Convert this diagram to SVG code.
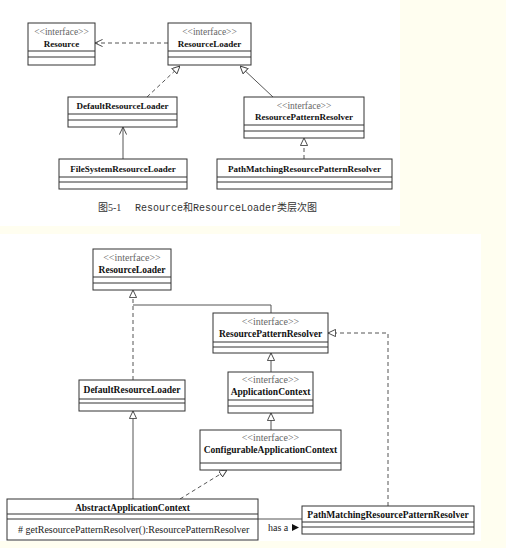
<svg xmlns="http://www.w3.org/2000/svg" width="506" height="548" viewBox="0 0 506 548">
<defs>
<style>
.box{fill:#fff;stroke:#333;stroke-width:1}
.sep{stroke:#333;stroke-width:1;fill:none}
.st{font-family:"Liberation Serif","Times New Roman",serif;fill:#666;text-anchor:middle}
.nm{font-family:"Liberation Serif","Times New Roman",serif;font-weight:bold;fill:#111;text-anchor:middle}
.op{font-family:"Liberation Serif","Times New Roman",serif;fill:#222;font-size:10px}
.ln{stroke:#555;stroke-width:1;fill:none}
.dl{stroke:#555;stroke-width:1;fill:none;stroke-dasharray:4,3}
.t9{font-size:9px}
.t95{font-size:9.5px}
.t10{font-size:10px}
</style>
<marker id="tri" viewBox="0 0 10 10" refX="10" refY="5" markerWidth="8" markerHeight="8" markerUnits="userSpaceOnUse" orient="auto"><path d="M0.5,0.5 L10,5 L0.5,9.5 Z" fill="#fff" stroke="#444" stroke-width="1.2"/></marker>
<marker id="open" viewBox="0 0 10 10" refX="10" refY="5" markerWidth="8" markerHeight="8" markerUnits="userSpaceOnUse" orient="auto"><path d="M0.5,0.5 L10,5 L0.5,9.5" fill="none" stroke="#444" stroke-width="1.2"/></marker>
</defs>
<rect x="0" y="0" width="506" height="548" fill="#FFFEF0"/>
<rect x="0" y="0" width="400" height="226" fill="#fff"/>
<rect x="0" y="234" width="481" height="307" fill="#fff"/>

<g id="connectors">
<!-- top -->
<line class="dl" x1="168" y1="43" x2="95" y2="43" marker-end="url(#open)"/>
<line class="dl" x1="147" y1="97" x2="180" y2="66" marker-end="url(#tri)"/>
<line class="ln" x1="273" y1="97" x2="240" y2="66" marker-end="url(#tri)"/>
<line class="ln" x1="123" y1="159" x2="123" y2="127" marker-end="url(#open)"/>
<line class="dl" x1="304" y1="159" x2="304" y2="138" marker-end="url(#tri)"/>
<!-- bottom -->
<line class="dl" x1="133" y1="380" x2="133" y2="290" marker-end="url(#tri)"/>
<path class="ln" d="M271,313 L271,305 L133,305"/>
<line class="ln" x1="271" y1="372" x2="271" y2="353" marker-end="url(#tri)"/>
<line class="ln" x1="271" y1="430" x2="271" y2="413" marker-end="url(#tri)"/>
<line class="ln" x1="133" y1="499" x2="133" y2="411" marker-end="url(#tri)"/>
<line class="dl" x1="180" y1="499" x2="227" y2="470" marker-end="url(#tri)"/>
<path class="dl" d="M388,506 L388,333 L328,333" marker-end="url(#tri)"/>
<line class="ln" x1="258" y1="519" x2="302" y2="519"/>
<text x="268" y="531" class="op">has a</text>
<polygon points="292,524 299,527.5 292,531" fill="#111"/>
</g>

<g id="top-Resource">
<rect class="box" x="28" y="23" width="67" height="42"/>
<text x="61.5" y="35" class="st t95">&lt;&lt;interface&gt;&gt;</text>
<text x="61.5" y="46.5" class="nm t9">Resource</text>
<line class="sep" x1="28" y1="51" x2="95" y2="51"/>
<line class="sep" x1="28" y1="57" x2="95" y2="57"/>
</g>
<g id="top-ResourceLoader">
<rect class="box" x="168" y="23" width="83" height="42"/>
<text x="209.5" y="35" class="st t95">&lt;&lt;interface&gt;&gt;</text>
<text x="209.5" y="46.5" class="nm t9">ResourceLoader</text>
<line class="sep" x1="168" y1="51" x2="251" y2="51"/>
<line class="sep" x1="168" y1="57" x2="251" y2="57"/>
</g>
<g id="top-DefaultResourceLoader">
<rect class="box" x="68" y="97" width="109" height="30"/>
<text x="122.5" y="109" class="nm t9">DefaultResourceLoader</text>
<line class="sep" x1="68" y1="114" x2="177" y2="114"/>
<line class="sep" x1="68" y1="120" x2="177" y2="120"/>
</g>
<g id="top-ResourcePatternResolver">
<rect class="box" x="244" y="97" width="120" height="41"/>
<text x="304" y="109" class="st t95">&lt;&lt;interface&gt;&gt;</text>
<text x="304" y="120" class="nm t9">ResourcePatternResolver</text>
<line class="sep" x1="244" y1="125" x2="364" y2="125"/>
<line class="sep" x1="244" y1="131" x2="364" y2="131"/>
</g>
<g id="top-FileSystemResourceLoader">
<rect class="box" x="59" y="159" width="128" height="30"/>
<text x="123" y="172" class="nm t9">FileSystemResourceLoader</text>
<line class="sep" x1="59" y1="177" x2="187" y2="177"/>
<line class="sep" x1="59" y1="182" x2="187" y2="182"/>
</g>
<g id="top-PathMatchingResourcePatternResolver">
<rect class="box" x="217" y="159" width="175" height="30"/>
<text x="304.5" y="172" class="nm t9">PathMatchingResourcePatternResolver</text>
<line class="sep" x1="217" y1="177" x2="392" y2="177"/>
<line class="sep" x1="217" y1="182" x2="392" y2="182"/>
</g>
<g id="caption">
<text x="98" y="211" font-family="'Liberation Serif','Noto Sans CJK SC',serif" font-size="10" fill="#333">图5-1</text>
<text x="135" y="211" font-family="'Liberation Mono','Noto Sans CJK SC',monospace" font-size="10" fill="#333">Resource和ResourceLoader类层次图</text>
</g>

<g id="ResourceLoader">
<rect class="box" x="93" y="249" width="78" height="41"/>
<text x="132" y="261" class="st t10">&lt;&lt;interface&gt;&gt;</text>
<text x="132" y="273" class="nm t95">ResourceLoader</text>
<line class="sep" x1="93" y1="277" x2="171" y2="277"/>
<line class="sep" x1="93" y1="283" x2="171" y2="283"/>
</g>
<g id="ResourcePatternResolver">
<rect class="box" x="213" y="313" width="115" height="40"/>
<text x="270.5" y="325" class="st t10">&lt;&lt;interface&gt;&gt;</text>
<text x="270.5" y="336.5" class="nm t95">ResourcePatternResolver</text>
<line class="sep" x1="213" y1="342" x2="328" y2="342"/>
<line class="sep" x1="213" y1="347" x2="328" y2="347"/>
</g>
<g id="ApplicationContext">
<rect class="box" x="228" y="372" width="85" height="41"/>
<text x="270.5" y="383" class="st t10">&lt;&lt;interface&gt;&gt;</text>
<text x="270.5" y="395" class="nm t95">ApplicationContext</text>
<line class="sep" x1="228" y1="400" x2="313" y2="400"/>
<line class="sep" x1="228" y1="406" x2="313" y2="406"/>
</g>
<g id="ConfigurableApplicationContext">
<rect class="box" x="200" y="430" width="141" height="40"/>
<text x="270.5" y="441" class="st t10">&lt;&lt;interface&gt;&gt;</text>
<text x="270.5" y="452.5" class="nm t95">ConfigurableApplicationContext</text>
<line class="sep" x1="200" y1="463" x2="341" y2="463"/>
</g>
<g id="DefaultResourceLoader">
<rect class="box" x="79" y="380" width="106" height="31"/>
<text x="132" y="393" class="nm t95">DefaultResourceLoader</text>
<line class="sep" x1="79" y1="399" x2="185" y2="399"/>
<line class="sep" x1="79" y1="403" x2="185" y2="403"/>
</g>
<g id="AbstractApplicationContext">
<rect class="box" x="7" y="499" width="251" height="41"/>
<text x="132.5" y="511" class="nm t95">AbstractApplicationContext</text>
<line class="sep" x1="7" y1="514" x2="258" y2="514"/>
<line class="sep" x1="7" y1="519" x2="258" y2="519"/>
<text x="18" y="533" class="op">#  getResourcePatternResolver():ResourcePatternResolver</text>
</g>
<g id="PathMatchingResourcePatternResolver">
<rect class="box" x="302" y="506" width="172" height="28"/>
<text x="388" y="517.5" class="nm t95">PathMatchingResourcePatternResolver</text>
<line class="sep" x1="302" y1="522" x2="474" y2="522"/>
<line class="sep" x1="302" y1="527" x2="474" y2="527"/>
</g>
</svg>
